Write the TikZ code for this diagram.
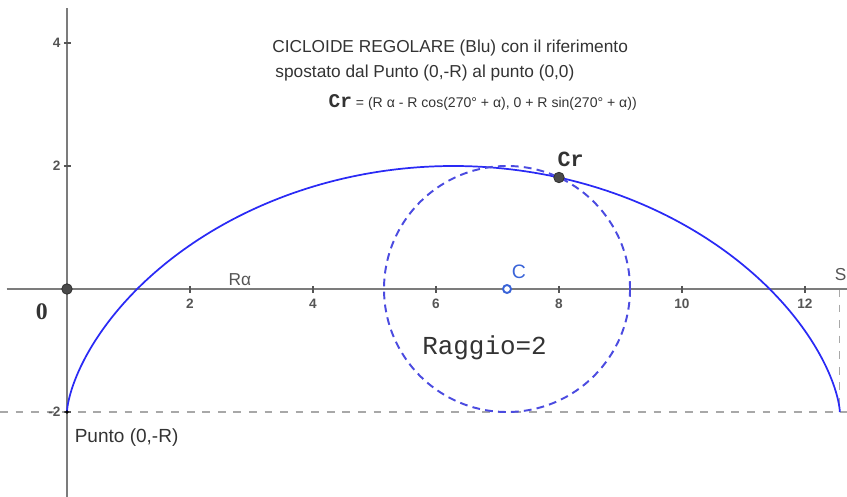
\documentclass[tikz,border=0pt]{standalone}
\usepackage{fontspec}
\setmainfont{Liberation Sans}
\newfontfamily\monofont{Liberation Mono}
\newfontfamily\seriffont{Liberation Serif}
\usetikzlibrary{positioning}
\definecolor{GGAsse}{HTML}{7C7C7C}
\definecolor{GGGuida}{HTML}{A8A8A8}
\definecolor{GGTesto}{HTML}{333333}
\definecolor{GGNumero}{HTML}{555555}
\definecolor{GGBlu}{HTML}{2A2AF5}
\definecolor{GGCerchio}{HTML}{4B4BE0}
\definecolor{GGPunto}{HTML}{4A4A4A}
\definecolor{GGCentro}{HTML}{3A64D8}
\tikzset{
  asse/.style={draw=GGAsse, line width=0.9pt},
  guida/.style={draw=GGGuida, line width=0.5pt, dash pattern=on 3.6pt off 3.6pt},
  tacca/.style={draw=GGNumero, line width=0.5pt},
  numero/.style={text=GGNumero, font=\fontsize{6.3pt}{7pt}\selectfont\bfseries, inner sep=0pt},
  etich/.style={text=GGTesto, inner sep=0pt, font=\fontsize{8pt}{9.6pt}\selectfont},
  cicloide/.style={draw=GGBlu, line width=0.8pt},
  cerchio/.style={draw=GGCerchio, line width=0.9pt, dash pattern=on 3.6pt off 2.4pt},
  puntoscuro/.style={circle, fill=GGPunto, draw=black!80, line width=0.4pt, inner sep=0pt, minimum size=0.17cm},
  puntovuoto/.style={circle, fill=white, draw=GGCentro, line width=0.9pt, inner sep=0pt, minimum size=0.13cm},
}

\begin{document}
\begin{tikzpicture}[x=1cm, y=1cm]
  \useasboundingbox (-1.089,-3.382) rectangle (12.683,4.699);
  % linee tratteggiate
  \draw[guida] (-1.089,-2) -- (12.683,-2);
  \coordinate (fine) at (4*pi,0);
  \coordinate (fineb) at (4*pi,-2);
  \draw[guida] (fine) -- (fineb);
  % assi
  \draw[asse] (-0.98,0) -- (12.683,0);
  \draw[asse] (0,-3.382) -- (0,4.57);
  \foreach \x in {2,4,...,12} {
    \draw[tacca] (\x,0.05) -- (\x,-0.06);
    \node[numero] (tx\x) at (\x,-0.24) {\x};
  }
  \foreach \y [count=\i] in {4,2,-2} {
    \draw[tacca] (-0.05,\y) -- (0.06,\y);
    \node[numero, anchor=east] (ty\i) at (-0.1,\y) {\y};
  }
  % cicloide e cerchio
  \draw[cicloide] plot[domain=0:6.28319, samples=200, variable=\t] ({2*\t-2*sin(\t r)}, {-2*cos(\t r)});
  \draw[cerchio] (7.155,0) circle[radius=2];
  % punti
  \node[circle, fill=black, inner sep=0pt, minimum size=0.06cm] (P) at (0,-2) {};
  \node[puntoscuro] (O) at (0,0) {};
  \node[puntoscuro] (Cr) at (8,1.813) {};
  \node[puntovuoto] (C) at (7.155,0) {};
  % etichette
  \node[text=GGTesto, inner sep=0pt, font=\seriffont\fontsize{11pt}{13pt}\selectfont\bfseries] (lO) at (-0.41,-0.37) {0};
  \node[text=GGTesto, inner sep=0pt, font=\monofont\fontsize{10pt}{12pt}\selectfont\bfseries] (lCr) at (8.19,2.1) {Cr};
  \node[text=GGCentro, inner sep=0pt, font=\fontsize{9pt}{11pt}\selectfont] (lC) at (7.35,0.28) {C};
  \node[etich, text=GGNumero] (lRa) at (2.81,0.16) {Rα};
  \node[etich, text=GGNumero, anchor=east] (lS) at (12.68,0.24) {S};
  \node[etich, anchor=west, font=\fontsize{8.8pt}{10pt}\selectfont] (lP) at (0.12,-2.42) {Punto (0,-R)};
  \node[text=GGTesto, inner sep=0pt, font=\monofont\fontsize{12pt}{14pt}\selectfont] (rag) at (6.79,-0.95) {Raggio=2};
  % titolo
  \node[etich] (t1) at (6.23,3.92) {CICLOIDE REGOLARE (Blu) con il riferimento};
  \node[etich] (t2) at (5.82,3.51) {spostato dal Punto (0,-R) al punto (0,0)};
  \node[etich, font=\fontsize{6.5pt}{9pt}\selectfont] (t3) at (6.76,3.04) {{\monofont\bfseries\fontsize{9pt}{11pt}\selectfont Cr} = (R α - R cos(270° + α), 0 + R sin(270° + α))};
\end{tikzpicture}
\end{document}
